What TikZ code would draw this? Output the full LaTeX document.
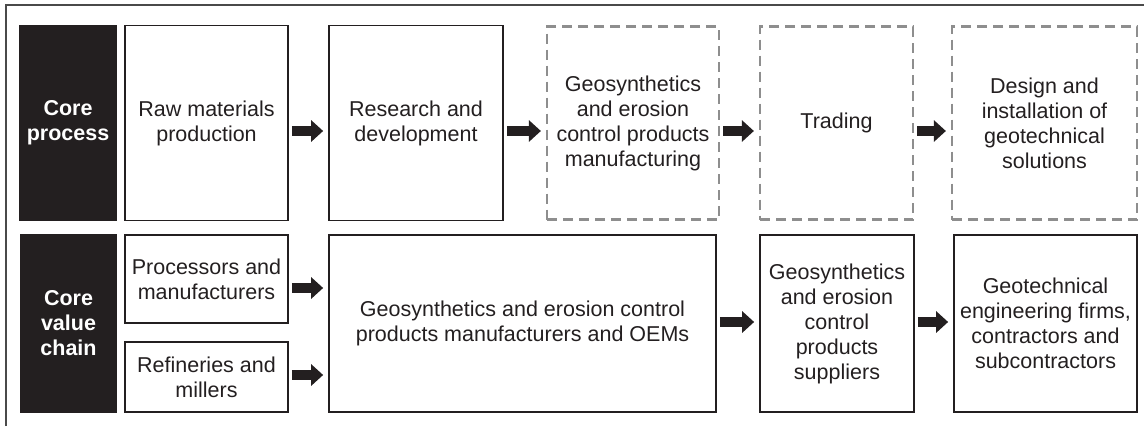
\documentclass[tikz,border=0pt]{standalone}
\usepackage{fontspec}
\setmainfont{Liberation Sans}
\usetikzlibrary{arrows.meta}

\definecolor{ink}{HTML}{231F20}
\definecolor{dashgray}{HTML}{8E8E8E}
\definecolor{framegray}{HTML}{4A4A4A}

\begin{document}
\begin{tikzpicture}[x=1pt, y=-1pt, text=ink, font=\fontsize{21.5}{25}\selectfont]
            \tikzstyle{headbox} = [fill=ink, text=white, font=\fontsize{21.5}{25}\selectfont\bfseries, align=center, inner sep=0pt]
            \tikzstyle{solidbox} = [draw=ink, line width=1.7pt, align=center, inner sep=0pt]
            \tikzstyle{dashbox} = [draw=dashgray, line width=2.2pt, dash pattern=on 10pt off 6pt, align=center, inner sep=0pt]
            \tikzstyle{flow} = [draw=ink, line width=10pt, -{Triangle[length=12pt, width=21pt]}, shorten <=3pt, shorten >=5pt]
            \useasboundingbox (0, 0) rectangle (1144, 426);
            \draw[framegray, line width=1.8pt] (6, 426) -- (6, 5) -- (1144, 5);
            % upper row: core process
            \node[headbox, minimum width=98pt, minimum height=196pt] (cp) at (68, 123) {Core\\process};
            \node[solidbox, minimum width=163pt, minimum height=195pt] (raw) at (206.5, 123) {Raw materials\\production};
            \node[solidbox, minimum width=174pt, minimum height=195pt] (rnd) at (416, 123) {Research and\\development};
            \node[dashbox, minimum width=172pt, minimum height=193pt] (mfg) at (633, 123) {Geosynthetics\\and erosion\\control products\\manufacturing};
            \node[dashbox, minimum width=153pt, minimum height=193pt] (trade) at (836.5, 123) {Trading};
            \node[dashbox, minimum width=185pt, minimum height=193pt] (design) at (1044.5, 123) {Design and\\installation of\\geotechnical\\solutions};
            \foreach \s/\t in {raw/rnd, rnd/mfg, mfg/trade, trade/design}
                \draw[flow] ([yshift=-8pt]\s.east) -- ([yshift=-8pt]\t.west);
            % lower row: core value chain
            \node[headbox, minimum width=97pt, minimum height=179pt] (cvc) at (68.5, 323.5) {Core\\value\\chain};
            \node[solidbox, minimum width=163pt, minimum height=88pt] (proc) at (206.5, 279) {Processors and\\manufacturers};
            \node[solidbox, minimum width=163pt, minimum height=70pt] (ref) at (206.5, 377) {Refineries and\\millers};
            \node[solidbox, minimum width=387pt, minimum height=177pt] (oem) at (522.5, 323.5) {Geosynthetics and erosion control\\products manufacturers and OEMs};
            \node[solidbox, minimum width=154pt, minimum height=177pt] (supp) at (837, 323.5) {Geosynthetics\\and erosion\\control\\products\\suppliers};
            \node[solidbox, minimum width=183pt, minimum height=177pt] (firms) at (1045.5, 323.5) {Geotechnical\\engineering firms,\\contractors and\\subcontractors};
            \coordinate (procout) at ([yshift=-9pt]proc.east);
            \coordinate (refout) at ([yshift=2pt]ref.east);
            \draw[flow] (procout) -- (procout -| oem.west);
            \draw[flow] (refout) -- (refout -| oem.west);
            \draw[flow] ([yshift=1.5pt]oem.east) -- ([yshift=1.5pt]supp.west);
            \draw[flow] ([yshift=1.5pt]supp.east) -- ([yshift=1.5pt]firms.west);
        \end{tikzpicture}
\end{document}
